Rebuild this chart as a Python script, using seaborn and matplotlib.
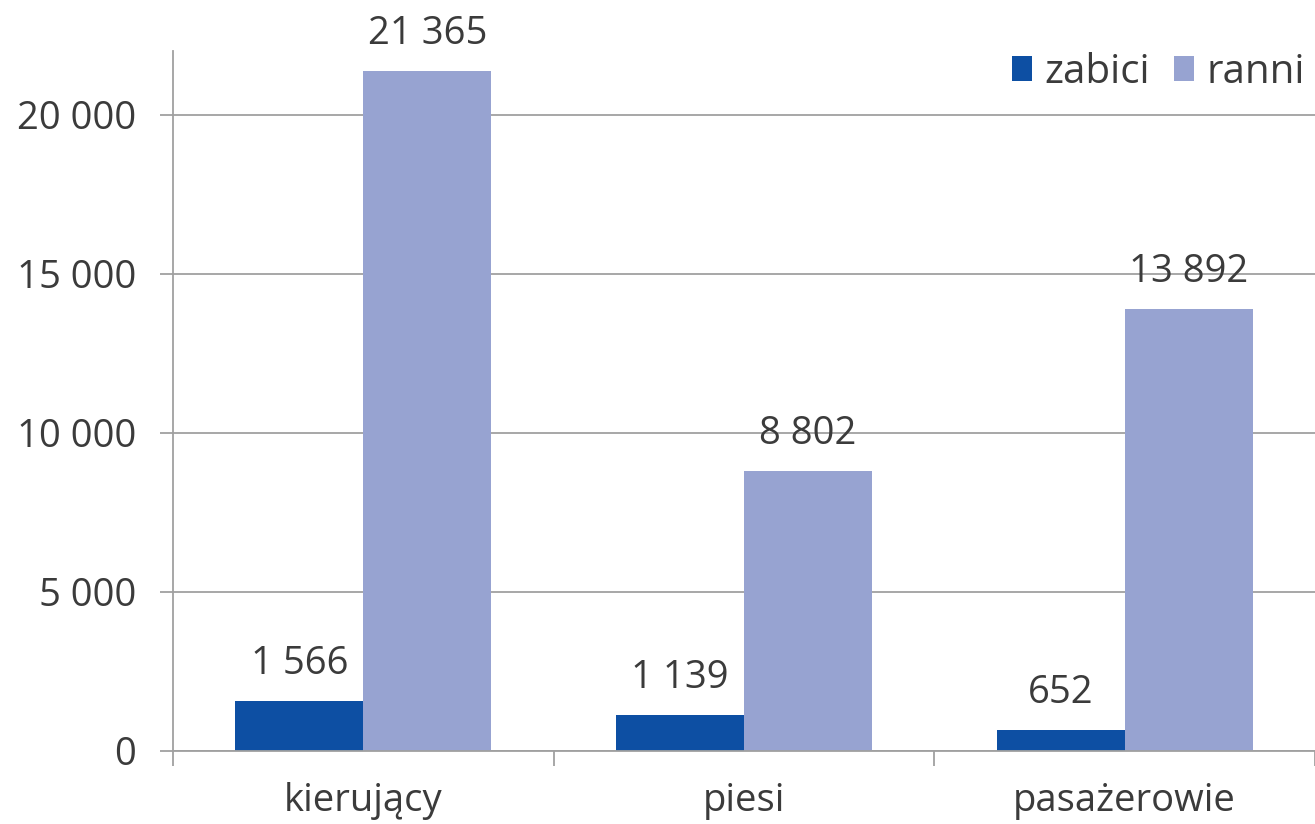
import matplotlib
matplotlib.use("Agg")
import matplotlib.pyplot as plt
import seaborn as sns
import pandas as pd
from matplotlib.ticker import FuncFormatter, FixedLocator

categories = ["kierujący", "piesi", "pasażerowie"]
series_names = ["zabici", "ranni"]
zabici = [1566, 1139, 652]
ranni = [21365, 8802, 13892]
y_ticks = [0, 5000, 10000, 15000, 20000]

def fmt(v):
    return f"{int(v):,}".replace(",", " ")

df = pd.DataFrame({
    "kategoria": categories * 2,
    "seria": [series_names[0]] * 3 + [series_names[1]] * 3,
    "wartosc": zabici + ranni,
})

sns.set_theme(style="white")
plt.rcParams["font.family"] = ["Open Sans", "DejaVu Sans"]
text_color = "#3b3b3b"
grid_color = "#a0a0a0"
fs = 27.5

fig = plt.figure(figsize=(13.15, 8.24), dpi=100)
ax = fig.add_axes([0.1316, 0.0886, 0.8684, 0.8494])

sns.barplot(data=df, x="kategoria", y="wartosc", hue="seria",
            order=categories, hue_order=series_names,
            palette=["#0d4fa3", "#97a3d1"], width=0.673, saturation=1,
            linewidth=0, ax=ax, legend=True)

ax.set_xlim(-0.5, 2.5)
ax.set_ylim(0, 22000)
ax.set_yticks(y_ticks)
ax.yaxis.set_major_formatter(FuncFormatter(lambda v, p: fmt(v)))
ax.grid(axis="y", color=grid_color, linewidth=1.3)
ax.set_axisbelow(True)
ax.set_xlabel("")
ax.set_ylabel("")

for s in ["top", "right"]:
    ax.spines[s].set_visible(False)
for s in ["left", "bottom"]:
    ax.spines[s].set_color(grid_color)
    ax.spines[s].set_linewidth(1.3)

ax.tick_params(axis="y", which="major", direction="out", length=9.5, width=1.3,
               color=grid_color, labelsize=fs, labelcolor=text_color, pad=17, left=True)
ax.tick_params(axis="x", which="major", length=0, labelsize=fs, labelcolor=text_color, pad=22)
ax.xaxis.set_minor_locator(FixedLocator([-0.5, 0.5, 1.5, 2.5]))
ax.tick_params(axis="x", which="minor", direction="out", length=11, width=1.3,
               color=grid_color, bottom=True)

for cont, vals in zip(ax.containers, [zabici, ranni]):
    ax.bar_label(cont, labels=[fmt(v) for v in vals], padding=13,
                 fontsize=fs, color=text_color)

leg = ax.legend(loc="upper right", bbox_to_anchor=(1.023, 1.05), frameon=False,
                fontsize=29, handlelength=0.5, handleheight=0.55, handletextpad=0.3,
                columnspacing=0.6, ncol=2, labelcolor=text_color)

fig.savefig("out.png", dpi=100)
